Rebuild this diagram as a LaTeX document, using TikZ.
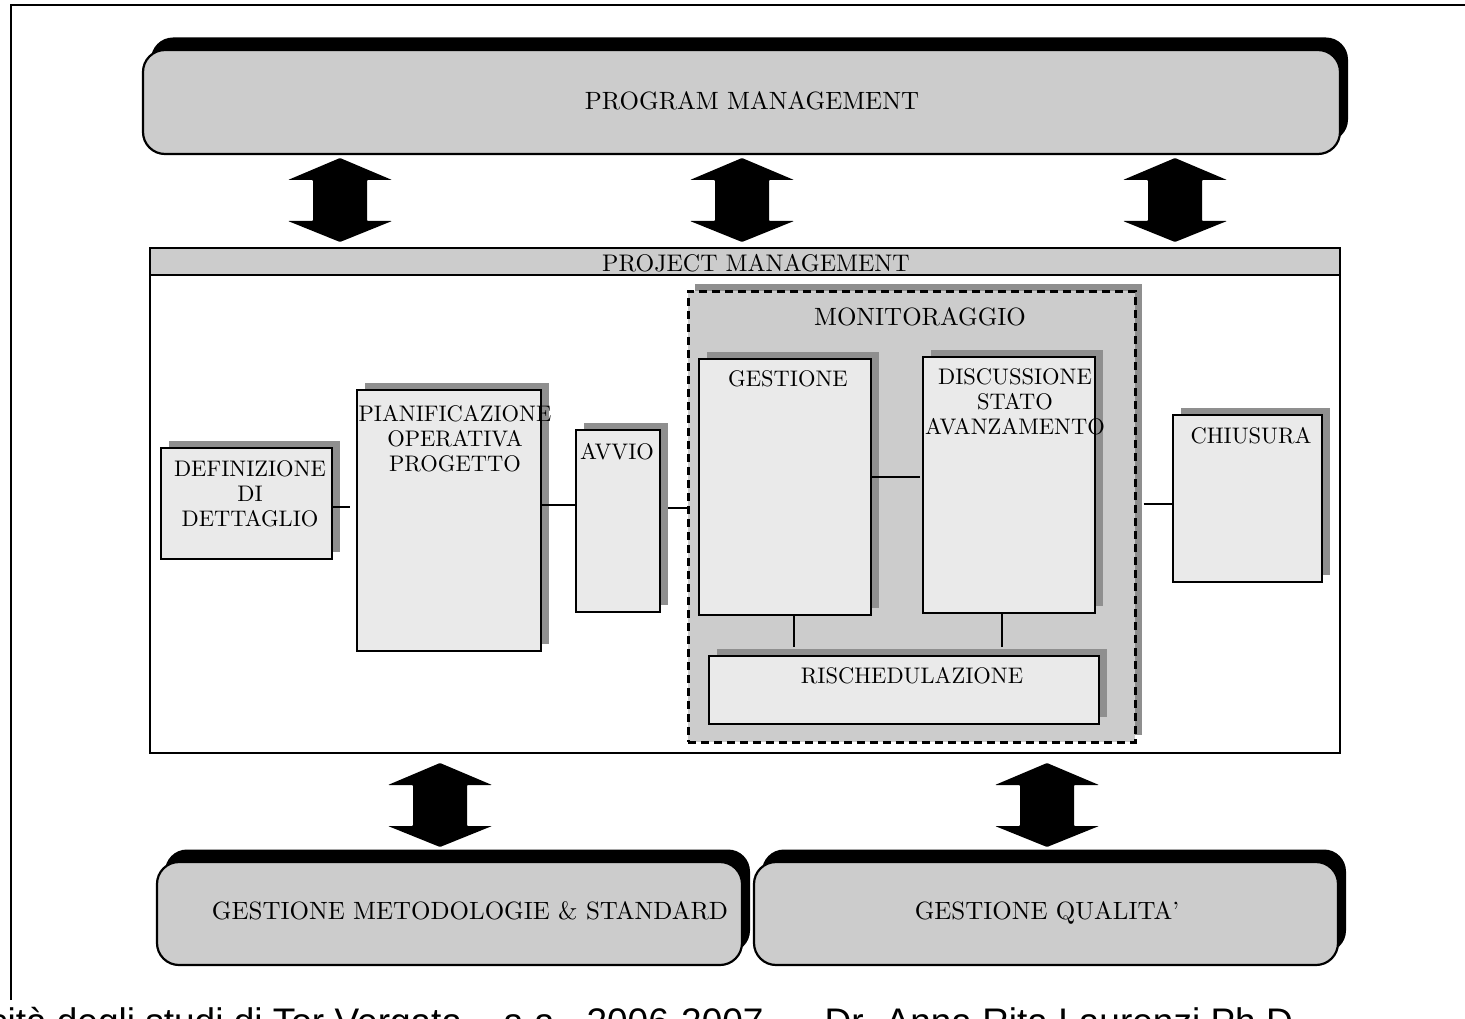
\documentclass[tikz,border=0pt]{standalone}
\usepackage{fontspec}
\newfontfamily\footerfont{Liberation Sans}
\usetikzlibrary{shadows}
\definecolor{panelgray}{HTML}{CCCCCC}
\definecolor{boxgray}{HTML}{EAEAEA}
\definecolor{shadowgray}{HTML}{8F8F8F}
% double-headed block arrow: #1 = centre x, #2 = y of the upper tip
\newcommand\dblarrow[2]{%
  \fill[black, rounded corners=0.8pt] (#1,#2) -- ++(52,22) -- ++(-25,0) -- ++(0,41)
    -- ++(25,0) -- ++(-52,21) -- ++(-52,-21) -- ++(25,0) -- ++(0,-41) -- ++(-25,0) -- cycle;}
\begin{document}
\begin{tikzpicture}[x=1pt,y=-1pt,
  roundbox/.style={draw=black, line width=2.2pt, fill=panelgray, rounded corners=22pt,
    inner sep=0pt, outer sep=0pt,
    general shadow={fill=black, shadow xshift=8pt, shadow yshift=12.5pt}},
  phasebox/.style={draw=black, line width=2.8pt, fill=boxgray, inner sep=0pt, outer sep=0pt,
    general shadow={fill=shadowgray, shadow xshift=7.5pt, shadow yshift=7pt}},
  groupbox/.style={draw=black, line width=3pt, dash pattern=on 8pt off 5pt, fill=panelgray,
    inner sep=0pt, outer sep=0pt,
    general shadow={fill=shadowgray, shadow xshift=7pt, shadow yshift=7.5pt}},
  label/.style={anchor=north, inner sep=0pt, align=center, scale=2.25, transform shape,
    font=\fontsize{10}{11.1}\selectfont},
  biglabel/.style={anchor=north, inner sep=0pt, align=center, scale=2.5, transform shape,
    font=\fontsize{10}{11}\selectfont},
  conn/.style={draw=black, line width=2.5pt},
]
\useasboundingbox (0,0) rectangle (1465,1019);
\clip (0,0) rectangle (1465,1019);

% page frame
\draw[line width=1.8pt] (11,1000) -- (11,5) -- (1470,5);

% program management
\node[roundbox, minimum width=1197, minimum height=104] (prog) at (741.5,102) {};
\node[biglabel] (progtxt) at (752,91.5) {PROGRAM MANAGEMENT};

\dblarrow{340}{158}
\dblarrow{742}{158}
\dblarrow{1175}{158}

% project management panel
\node[draw=black, line width=2.5pt, fill=white, minimum width=1190, minimum height=505,
  inner sep=0pt, outer sep=0pt] (pm) at (745,500.5) {};
\node[draw=black, line width=2pt, fill=panelgray, minimum width=1190, minimum height=27,
  inner sep=0pt, outer sep=0pt] (pmhead) at (745,261.5) {};
\node[anchor=north, inner sep=0pt, scale=2.4, transform shape,
  font=\fontsize{10}{11}\selectfont] (pmtxt) at (756,254) {PROJECT MANAGEMENT};

% phases
\node[phasebox, minimum width=171, minimum height=111] (defin) at (246.5,503.5) {};
\node[label] (defintxt) at (250,460.5) {DEFINIZIONE\\DI\\DETTAGLIO};

\node[phasebox, minimum width=184, minimum height=261] (pianif) at (449,520.5) {};
\node[label] (pianiftxt) at (455,404.5) {PIANIFICAZIONE\\OPERATIVA\\PROGETTO};

\node[phasebox, minimum width=84, minimum height=182] (avvio) at (618,521) {};
\node[label] (avviotxt) at (617,443) {AVVIO};

\node[groupbox, minimum width=447, minimum height=451] (monit) at (911.5,516.5) {};
\node[biglabel] (monittxt) at (920,307) {MONITORAGGIO};

\node[phasebox, minimum width=172, minimum height=256] (gest) at (785,487) {};
\node[label] (gesttxt) at (788,370) {GESTIONE};

\node[phasebox, minimum width=172, minimum height=256] (disc) at (1009,485) {};
\node[label] (disctxt) at (1015,368) {DISCUSSIONE\\STATO\\AVANZAMENTO};

\node[phasebox, minimum width=390, minimum height=68] (risch) at (904,690) {};
\node[label] (rischtxt) at (912,667) {RISCHEDULAZIONE};

\node[phasebox, minimum width=149, minimum height=167] (chius) at (1247.5,498.5) {};
\node[label] (chiustxt) at (1251,427) {CHIUSURA};

% links between phases
\draw[conn, shorten >=7pt] ([yshift=-3.5pt]defin.east) -- ([yshift=-3.5pt]defin.east -| pianif.west);
\draw[conn] ([yshift=15.5pt]pianif.east) -- ([yshift=15.5pt]pianif.east -| avvio.west);
\draw[conn, shorten <=8pt] ([yshift=13pt]avvio.east) -- ([yshift=13pt]avvio.east -| monit.west);
\draw[conn, shorten >=3pt] ([yshift=10pt]gest.east) -- ([yshift=10pt]gest.east -| disc.west);
\draw[conn, shorten >=9pt] ([xshift=9pt]gest.south) -- ([xshift=9pt]gest.south |- risch.north);
\draw[conn, shorten >=9pt] ([xshift=-7pt]disc.south) -- ([xshift=-7pt]disc.south |- risch.north);
\draw[conn, shorten <=8.5pt] ([yshift=12.5pt]monit.east) -- ([yshift=12.5pt]monit.east -| chius.west);

\dblarrow{440}{763}
\dblarrow{1047}{763}

% supporting processes
\node[roundbox, minimum width=585, minimum height=103] (gms) at (449.5,913.5) {};
\node[biglabel] (gmstxt) at (470,901.5) {GESTIONE METODOLOGIE \& STANDARD};
\node[roundbox, minimum width=584, minimum height=103] (gq) at (1046,913.5) {};
\node[biglabel] (gqtxt) at (1047,901.5) {GESTIONE QUALITA’};

% footer line
\node[anchor=base west, inner sep=0pt, font=\footerfont\fontsize{37}{40}\selectfont] (footer)
  at (-118,1034) {Università degli studi di Tor Vergata – a.a.\hspace{8pt} 2006-2007 \hspace{20pt}– Dr. Anna Rita Laurenzi Ph.D};
\end{tikzpicture}
\end{document}
